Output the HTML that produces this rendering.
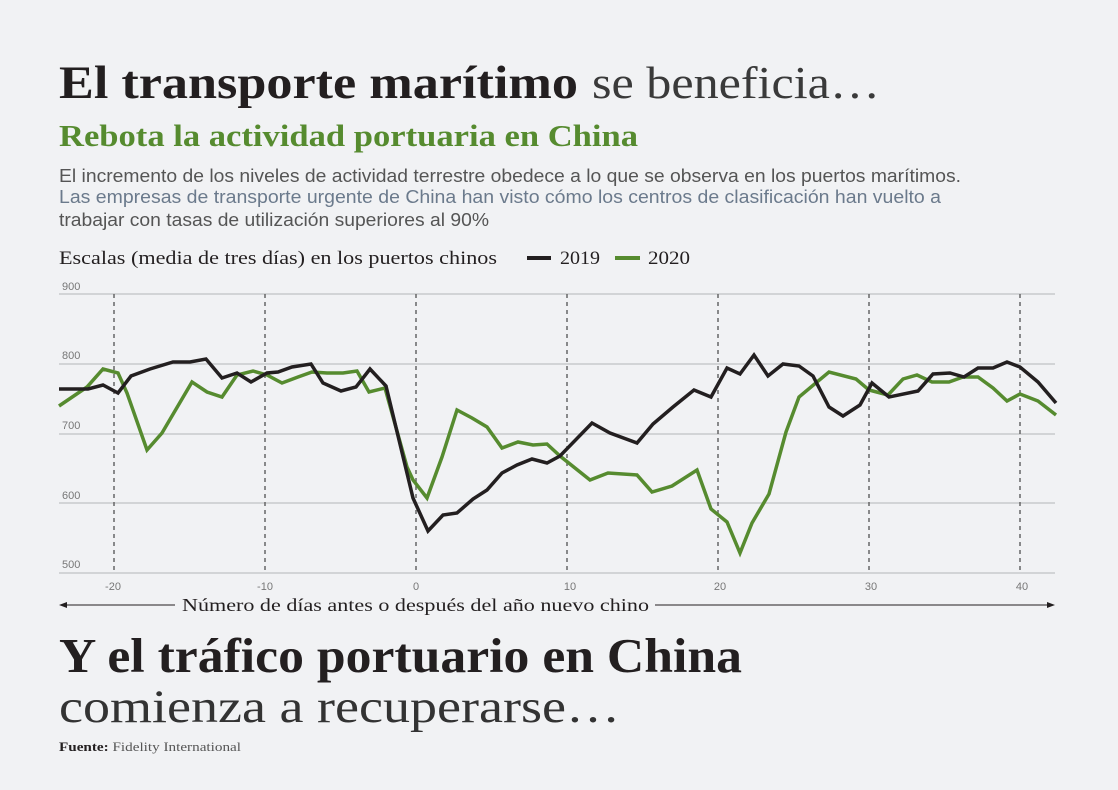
<!DOCTYPE html>
<html><head><meta charset="utf-8"><style>
html,body{margin:0;padding:0;background:#f1f2f4;}
svg{display:block;font-family:"Liberation Serif",serif;}
</style></head><body>
<svg width="1118" height="790" viewBox="0 0 1118 790" xmlns="http://www.w3.org/2000/svg">
<rect width="1118" height="790" fill="#f1f2f4"/>
<text x="59" y="98" font-size="47" font-weight="bold" fill="#231f20" textLength="519" lengthAdjust="spacingAndGlyphs">El transporte marítimo</text>
<text x="592" y="98" font-size="46" fill="#3a3a3a" textLength="288" lengthAdjust="spacingAndGlyphs">se beneficia…</text>
<text x="59" y="146" font-size="31" font-weight="bold" fill="#568b2f" textLength="579" lengthAdjust="spacingAndGlyphs">Rebota la actividad portuaria en China</text>
<g font-family="Liberation Sans, sans-serif" font-size="18" fill="#555">
<text x="59" y="182" textLength="902" lengthAdjust="spacingAndGlyphs">El incremento de los niveles de actividad terrestre obedece a lo que se observa en los puertos marítimos.</text>
<text x="59" y="203" fill="#6b7a8c" textLength="882" lengthAdjust="spacingAndGlyphs">Las empresas de transporte urgente de China han visto cómo los centros de clasificación han vuelto a</text>
<text x="59" y="226" textLength="430" lengthAdjust="spacingAndGlyphs">trabajar con tasas de utilización superiores al 90%</text>
</g>
<text x="59" y="264" font-size="19" fill="#231f20" textLength="438" lengthAdjust="spacingAndGlyphs">Escalas (media de tres días) en los puertos chinos</text>
<line x1="527" y1="258" x2="551" y2="258" stroke="#231f20" stroke-width="4"/>
<text x="560" y="264" font-size="19" fill="#231f20" textLength="40" lengthAdjust="spacingAndGlyphs">2019</text>
<line x1="615" y1="258" x2="640" y2="258" stroke="#568b2f" stroke-width="4"/>
<text x="648" y="264" font-size="19" fill="#231f20" textLength="42" lengthAdjust="spacingAndGlyphs">2020</text>
<g stroke="#c8c9cc" stroke-width="1.5">
<line x1="59" y1="294" x2="1055" y2="294"/><line x1="59" y1="364" x2="1055" y2="364"/>
<line x1="59" y1="434" x2="1055" y2="434"/><line x1="59" y1="503" x2="1055" y2="503"/>
<line x1="59" y1="573" x2="1055" y2="573"/>
</g>
<g stroke="#666" stroke-width="1.5" stroke-dasharray="4,4">
<line x1="114" y1="294" x2="114" y2="573"/><line x1="265" y1="294" x2="265" y2="573"/>
<line x1="416" y1="294" x2="416" y2="573"/><line x1="567" y1="294" x2="567" y2="573"/>
<line x1="718" y1="294" x2="718" y2="573"/><line x1="869" y1="294" x2="869" y2="573"/>
<line x1="1020" y1="294" x2="1020" y2="573"/>
</g>
<g font-family="Liberation Sans, sans-serif" font-size="11" fill="#777">
<text x="62" y="290">900</text><text x="62" y="359">800</text><text x="62" y="429">700</text><text x="62" y="499">600</text><text x="62" y="568">500</text>
<g text-anchor="middle"><text x="113" y="590">-20</text><text x="265" y="590">-10</text><text x="416" y="590">0</text><text x="570" y="590">10</text><text x="720" y="590">20</text><text x="871" y="590">30</text><text x="1022" y="590">40</text></g>
</g>
<polyline fill="none" stroke="#568b2f" stroke-width="3.5" points="59,406 87,387 103,369 118,373 127,393 147,450 162,433 192,382 207,392 222,397 237,375 253,371 267,375 282,383 298,377 312,372 327,373 343,373 357,371 369,392 385,388 407,467 413,480 427,498 442,457 457,410 472,418 487,427 502,448 518,442 533,445 547,444 560,456 590,480 608,473 637,475 652,492 672,486 697,470 711,509 727,522 740,553 752,523 769,494 786,432 799,397 829,372 856,379 869,390 888,395 903,379 917,375 932,382 949,382 963,377 978,377 993,388 1007,401 1020,394 1038,401 1056,415"/>
<polyline fill="none" stroke="#231f20" stroke-width="3.5" points="59,389 88,389 103,385 118,393 131,376 150,369 173,362 190,362 206,359 222,378 237,373 251,382 267,373 278,372 292,367 311,364 323,383 341,391 356,387 370,369 386,386 413,498 428,531 443,515 457,513 473,499 487,490 502,473 517,465 532,459 547,463 560,456 592,423 610,433 637,443 653,424 673,407 694,390 711,397 727,368 740,374 754,355 768,376 783,364 799,366 813,376 829,407 843,416 860,405 872,383 889,397 918,391 933,374 950,373 964,377 978,368 993,368 1007,362 1020,367 1038,382 1056,403"/>
<line x1="62" y1="605" x2="1050" y2="605" stroke="#231f20" stroke-width="1"/>
<polygon points="59,605 67,602 67,608" fill="#231f20"/>
<polygon points="1055,605 1047,602 1047,608" fill="#231f20"/>
<rect x="175" y="594" width="480" height="20" fill="#f1f2f4"/>
<text x="182" y="611" font-size="18" fill="#231f20" textLength="467" lengthAdjust="spacingAndGlyphs">Número de días antes o después del año nuevo chino</text>
<text x="59" y="672" font-size="49" font-weight="bold" fill="#231f20" textLength="683" lengthAdjust="spacingAndGlyphs">Y el tráfico portuario en China</text>
<text x="59" y="722" font-size="47" fill="#333" textLength="561" lengthAdjust="spacingAndGlyphs">comienza a recuperarse…</text>
<text x="59" y="751" font-size="13" fill="#231f20" textLength="182" lengthAdjust="spacingAndGlyphs"><tspan font-weight="bold">Fuente:</tspan><tspan fill="#555"> Fidelity International</tspan></text>
</svg>
</body></html>
